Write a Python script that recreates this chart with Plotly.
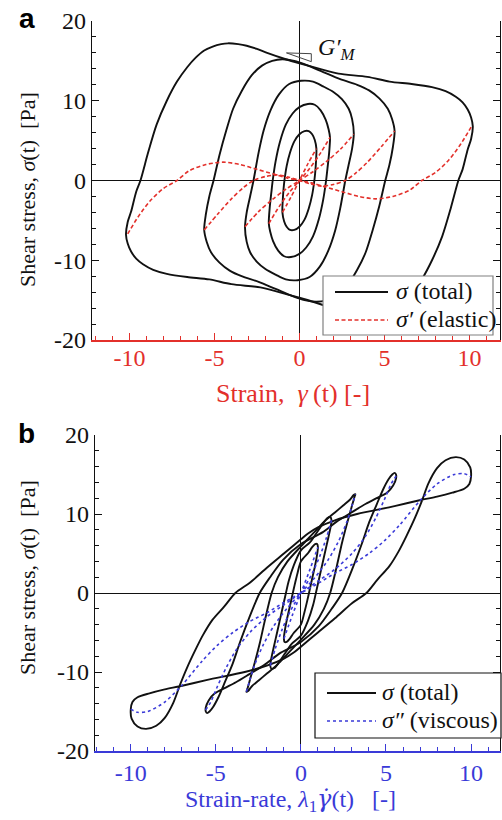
import plotly.graph_objects as go

# ---------------- Panel a : stress vs strain ----------------
# total stress loops (strain amplitude 1.0, 1.8, 3.2, 5.6, 10)
a_strain_1 = [-1.0, -0.98, -0.93, -0.88, -0.75, -0.55, -0.3, 0.0, 0.3, 0.55, 0.75, 0.9, 1.0,
              0.98, 0.93, 0.88, 0.75, 0.55, 0.3, 0.0, -0.3, -0.55, -0.75, -0.9, -1.0]
a_stress_1 = [-4.0, -2.5, -1.0, 0.0, 1.8, 3.5, 4.9, 5.8, 6.2, 6.2, 5.8, 5.1, 4.0,
              2.5, 1.0, 0.0, -1.8, -3.5, -4.9, -5.8, -6.2, -6.2, -5.8, -5.1, -4.0]

a_strain_2 = [-1.8, -1.75, -1.65, -1.57, -1.4, -1.15, -0.8, -0.4, 0.0, 0.5, 0.9, 1.25, 1.55, 1.72, 1.8,
              1.75, 1.65, 1.57, 1.4, 1.15, 0.8, 0.4, 0.0, -0.5, -0.9, -1.25, -1.55, -1.72, -1.8]
a_stress_2 = [-5.4, -3.5, -1.5, 0.0, 2.4, 4.8, 7.0, 8.4, 9.2, 9.6, 9.5, 8.8, 7.6, 6.4, 5.4,
              3.5, 1.5, 0.0, -2.4, -4.8, -7.0, -8.4, -9.2, -9.6, -9.5, -8.8, -7.6, -6.4, -5.4]

a_strain_3 = [-3.2, -3.1, -2.9, -2.7, -2.4, -2.1, -1.7, -1.2, -0.6, 0.1, 0.8, 1.4, 2.0, 2.5, 2.9, 3.1, 3.2,
              3.1, 2.9, 2.7, 2.4, 2.1, 1.7, 1.2, 0.6, -0.1, -0.8, -1.4, -2.0, -2.5, -2.9, -3.1, -3.2]
a_stress_3 = [-5.9, -4.0, -2.0, 0.0, 3.5, 6.3, 8.8, 10.8, 12.1, 12.5, 12.4, 11.8, 11.1, 10.2, 9.0, 7.7, 5.9,
              4.0, 2.0, 0.0, -3.5, -6.3, -8.8, -10.8, -12.1, -12.5, -12.4, -11.8, -11.1, -10.2, -9.0, -7.7, -5.9]

a_strain_4 = [-5.6, -5.5, -5.3, -5.05, -4.7, -4.3, -3.9, -3.4, -2.8, -2.2, -1.6, -1.0, -0.3, 0.4, 1.4, 2.4,
              3.4, 4.1, 4.7, 5.2, 5.45, 5.6,
              5.5, 5.3, 5.05, 4.7, 4.3, 3.9, 3.4, 2.8, 2.2, 1.6, 1.0, 0.3, -0.4, -1.4, -2.4,
              -3.4, -4.1, -4.7, -5.2, -5.45, -5.6]
a_stress_4 = [-6.2, -4.2, -2.0, 0.0, 3.2, 6.3, 9.0, 11.2, 13.2, 14.4, 15.0, 15.2, 15.0, 14.5, 13.6, 12.7,
              12.0, 11.3, 10.3, 9.0, 7.7, 6.2,
              4.2, 2.0, 0.0, -3.2, -6.3, -9.0, -11.2, -13.2, -14.4, -15.0, -15.2, -15.0, -14.5, -13.6, -12.7,
              -12.0, -11.3, -10.3, -9.0, -7.7, -6.2]

a_strain_5 = [-10.2, -10.1, -9.9, -9.6, -9.35, -8.9, -8.4, -7.8, -7.2, -6.6, -6.1, -5.6, -5.1, -4.6, -4.2,
              -3.6, -3.1, -2.5, -1.9, -0.8, 0.0, 1.2, 2.3, 4.0, 5.3, 6.6, 7.8, 8.6, 9.2, 9.6, 9.9, 10.1, 10.2,
              10.1, 9.9, 9.6, 9.35, 8.9, 8.4, 7.8, 7.2, 6.6, 6.1, 5.6, 5.1, 4.6, 4.2,
              3.6, 3.1, 2.5, 1.9, 0.8, 0.0, -1.2, -2.3, -4.0, -5.3, -6.6, -7.8, -8.6, -9.2, -9.6, -9.9, -10.1, -10.2]
a_stress_5 = [-6.8, -5.2, -3.9, -1.4, 0.0, 3.5, 7.0, 10.0, 12.4, 14.2, 15.4, 16.3, 16.8, 17.1, 17.2,
              17.1, 16.9, 16.5, 16.0, 15.2, 14.7, 14.0, 13.4, 13.0, 12.4, 12.1, 11.7, 11.2, 10.5, 9.8, 8.9, 7.9, 6.8,
              5.2, 3.9, 1.4, 0.0, -3.5, -7.0, -10.0, -12.4, -14.2, -15.4, -16.3, -16.8, -17.1, -17.2,
              -17.1, -16.9, -16.5, -16.0, -15.2, -14.7, -14.0, -13.4, -13.0, -12.4, -12.1, -11.7, -11.2, -10.5, -9.8, -8.9, -7.9, -6.8]

# elastic stress curves
e_strain_1 = [-1.0, -0.5, 0.0, 0.5, 1.0]
e_stress_1 = [-4.0, -2.1, 0.0, 2.1, 4.0]
e_strain_2 = [-1.8, -1.2, -0.6, 0.0, 0.6, 1.2, 1.8]
e_stress_2 = [-5.4, -3.3, -1.5, 0.0, 1.5, 3.3, 5.4]
e_strain_3 = [-3.2, -2.4, -1.6, -0.8, 0.0, 0.8, 1.6, 2.4, 3.2]
e_stress_3 = [-5.8, -3.9, -2.4, -1.1, 0.0, 1.1, 2.4, 3.9, 5.8]
e_strain_4 = [-5.6, -4.8, -4.0, -3.3, -2.7, -2.0, -1.3, -0.6, 0.0, 0.6, 1.3, 2.0, 2.7, 3.3, 4.0, 4.8, 5.6]
e_stress_4 = [-6.2, -4.2, -2.3, -0.9, 0.0, 0.5, 0.7, 0.4, 0.0, -0.4, -0.7, -0.5, 0.0, 0.9, 2.3, 4.2, 6.2]
e_strain_5 = [-10.1, -9.5, -8.8, -8.0, -7.2, -6.5, -5.5, -4.5, -3.5, -2.5, -1.5, -0.7, 0.0,
              0.7, 1.5, 2.5, 3.5, 4.5, 5.5, 6.5, 7.2, 8.0, 8.8, 9.5, 10.1]
e_stress_5 = [-6.7, -4.6, -2.6, -1.0, 0.0, 1.2, 2.0, 2.3, 2.0, 1.4, 0.8, 0.3, 0.0,
              -0.3, -0.8, -1.4, -2.0, -2.3, -2.0, -1.2, 0.0, 1.0, 2.6, 4.6, 6.7]

# G'_M slope triangle
gm_tri_x = [-0.76, 0.7, 0.7, -0.76]
gm_tri_y = [16.0, 15.9, 14.9, 16.0]

# ---------------- Panel b : stress vs strain-rate ----------------
b_rate_1 = [0.0, 0.2, 0.37, 0.475, 0.66, 0.835, 0.954, 1.0, 0.954, 0.835, 0.66, 0.436, 0.0,
            -0.2, -0.37, -0.475, -0.66, -0.835, -0.954, -1.0, -0.954, -0.835, -0.66, -0.436, 0.0]
b_stress_1 = [-4.0, -2.5, -1.0, 0.0, 1.8, 3.5, 4.9, 5.8, 6.2, 6.2, 5.8, 5.1, 4.0,
              2.5, 1.0, 0.0, -1.8, -3.5, -4.9, -5.8, -6.2, -6.2, -5.8, -5.1, -4.0]

b_rate_2 = [0.0, 0.42, 0.72, 0.88, 1.13, 1.38, 1.61, 1.75, 1.8, 1.73, 1.56, 1.30, 0.92, 0.53, 0.0,
            -0.42, -0.72, -0.88, -1.13, -1.38, -1.61, -1.75, -1.8, -1.73, -1.56, -1.30, -0.92, -0.53, 0.0]
b_stress_2 = [-5.4, -3.5, -1.5, 0.0, 2.4, 4.8, 7.0, 8.4, 9.2, 9.6, 9.5, 8.8, 7.6, 6.4, 5.4,
              3.5, 1.5, 0.0, -2.4, -4.8, -7.0, -8.4, -9.2, -9.6, -9.5, -8.8, -7.6, -6.4, -5.4]

b_rate_3 = [0.0, 0.79, 1.35, 1.72, 2.12, 2.41, 2.71, 2.97, 3.14, 3.2, 3.10, 2.88, 2.50, 2.0, 1.35, 0.79, 0.0,
            -0.79, -1.35, -1.72, -2.12, -2.41, -2.71, -2.97, -3.14, -3.2, -3.10, -2.88, -2.50, -2.0, -1.35, -0.79, 0.0]
b_stress_3 = [-5.9, -4.0, -2.0, 0.0, 3.5, 6.3, 8.8, 10.8, 12.1, 12.5, 12.4, 11.8, 11.1, 10.2, 9.0, 7.7, 5.9,
              4.0, 2.0, 0.0, -3.5, -6.3, -8.8, -10.8, -12.1, -12.5, -12.4, -11.8, -11.1, -10.2, -9.0, -7.7, -5.9]

b_rate_4 = [0.0, 1.05, 1.81, 2.42, 3.05, 3.59, 4.02, 4.45, 4.85, 5.15, 5.37, 5.51, 5.59, 5.59, 5.42, 5.06,
            4.45, 3.82, 3.05, 2.08, 1.29, 0.0,
            -1.05, -1.81, -2.42, -3.05, -3.59, -4.02, -4.45, -4.85, -5.15, -5.37, -5.51, -5.59, -5.59, -5.42, -5.06,
            -4.45, -3.82, -3.05, -2.08, -1.29, 0.0]
b_stress_4 = [-6.2, -4.2, -2.0, 0.0, 3.2, 6.3, 9.0, 11.2, 13.2, 14.4, 15.0, 15.2, 15.0, 14.5, 13.6, 12.7,
              12.0, 11.3, 10.3, 9.0, 7.7, 6.2,
              4.2, 2.0, 0.0, -3.2, -6.3, -9.0, -11.2, -13.2, -14.4, -15.0, -15.2, -15.0, -14.5, -13.6, -12.7,
              -12.0, -11.3, -10.3, -9.0, -7.7, -6.2]

b_rate_5 = [0.0, 1.0, 2.0, 3.0, 3.85, 4.5, 5.2, 5.75, 6.2, 6.7, 7.1, 7.5, 8.0, 8.5, 9.1, 9.6, 9.95, 10.0,
            9.9, 9.6, 8.9, 8.0, 7.1, 5.5, 3.3, 2.0, 1.0, 0.4, 0.0,
            -1.0, -2.0, -3.0, -3.85, -4.5, -5.2, -5.75, -6.2, -6.7, -7.1, -7.5, -8.0, -8.5, -9.1, -9.6, -9.95, -10.0,
            -9.9, -9.6, -8.9, -8.0, -7.1, -5.5, -3.3, -2.0, -1.0, -0.4, 0.0]
b_stress_5 = [-6.8, -5.0, -3.2, -1.3, 0.0, 1.7, 3.4, 5.3, 7.2, 9.5, 11.6, 13.9, 15.8, 16.8, 17.2, 16.9, 15.9, 14.8,
              13.8, 13.2, 12.7, 12.2, 11.8, 11.0, 10.0, 9.2, 8.3, 7.5, 6.8,
              5.0, 3.2, 1.3, 0.0, -1.7, -3.4, -5.3, -7.2, -9.5, -11.6, -13.9, -15.8, -16.8, -17.2, -16.9, -15.9, -14.8,
              -13.8, -13.2, -12.7, -12.2, -11.8, -11.0, -10.0, -9.2, -8.3, -7.5, -6.8]

# viscous stress curves
v_rate_1 = [-1.0, -0.5, 0.0, 0.5, 1.0]
v_stress_1 = [-5.8, -2.8, 0.0, 2.8, 5.8]
v_rate_2 = [-1.8, -1.5, -1.1, -0.6, 0.0, 0.6, 1.1, 1.5, 1.8]
v_stress_2 = [-9.2, -7.0, -4.6, -2.2, 0.0, 2.2, 4.6, 7.0, 9.2]
v_rate_3 = [-3.2, -3.0, -2.7, -2.2, -1.6, -0.8, 0.0, 0.8, 1.6, 2.2, 2.7, 3.0, 3.2]
v_stress_3 = [-12.5, -11.0, -9.0, -6.5, -4.2, -1.9, 0.0, 1.9, 4.2, 6.5, 9.0, 11.0, 12.5]
v_rate_4 = [-5.6, -5.3, -4.9, -4.4, -3.8, -3.0, -2.0, -1.0, 0.0, 1.0, 2.0, 3.0, 3.8, 4.4, 4.9, 5.3, 5.6]
v_stress_4 = [-14.8, -13.8, -11.8, -9.5, -7.2, -5.0, -3.0, -1.5, 0.0, 1.5, 3.0, 5.0, 7.2, 9.5, 11.8, 13.8, 14.8]
v_rate_5 = [-10.0, -9.6, -9.0, -8.0, -7.0, -5.8, -4.9, -4.0, -3.0, -2.0, -1.0, 0.0,
            1.0, 2.0, 3.0, 4.0, 4.9, 5.8, 7.0, 8.0, 9.0, 9.6, 10.0]
v_stress_5 = [-14.7, -15.1, -15.0, -13.8, -11.7, -8.6, -6.6, -5.0, -3.6, -2.5, -1.2, 0.0,
              1.2, 2.5, 3.6, 5.0, 6.6, 8.6, 11.7, 13.8, 15.0, 15.1, 14.7]

x_tickvals = [-10, -5, 0, 5, 10]
x_ticktext = ["-10", "-5", "0", "5", "10"]
y_tickvals = [-20, -10, 0, 10, 20]
y_ticktext = ["-20", "-10", "0", "10", "20"]

legend_a_labels = ["<i>σ</i> (total)", "<i>σ′</i> (elastic)"]
legend_b_labels = ["<i>σ</i> (total)", "<i>σ″</i> (viscous)"]

# ---------------- styling ----------------
FONT = "Liberation Serif"
RED = "#e3302b"
BLUE = "#3a3ad8"
BLACK = "#111111"
NB = "\u00a0"
W, H = 502, 820
ML, MR, MT, MB = 92, 2, 21, 69
PW, PH = W - ML - MR, H - MT - MB


def px(x):
    return (x - ML) / PW


def py(y):
    return (H - MB - y) / PH


fig = go.Figure()

line_black = dict(color=BLACK, width=1.9, shape="spline", smoothing=0.8)
for xs, ys in [(a_strain_1, a_stress_1), (a_strain_2, a_stress_2), (a_strain_3, a_stress_3),
               (a_strain_4, a_stress_4), (a_strain_5, a_stress_5)]:
    fig.add_trace(go.Scatter(x=xs, y=ys, mode="lines", xaxis="x", yaxis="y", line=line_black,
                             name="σ (total)", showlegend=False))
for xs, ys in [(e_strain_1, e_stress_1), (e_strain_2, e_stress_2), (e_strain_3, e_stress_3),
               (e_strain_4, e_stress_4), (e_strain_5, e_stress_5)]:
    fig.add_trace(go.Scatter(x=xs, y=ys, mode="lines", xaxis="x", yaxis="y",
                             line=dict(color=RED, width=1.6, dash="4px,2.5px", shape="spline", smoothing=0.8),
                             name="σ′ (elastic)", showlegend=False))
fig.add_trace(go.Scatter(x=gm_tri_x, y=gm_tri_y, mode="lines", xaxis="x", yaxis="y",
                         line=dict(color="#444444", width=1), showlegend=False))

for xs, ys in [(b_rate_1, b_stress_1), (b_rate_2, b_stress_2), (b_rate_3, b_stress_3),
               (b_rate_4, b_stress_4), (b_rate_5, b_stress_5)]:
    fig.add_trace(go.Scatter(x=xs, y=ys, mode="lines", xaxis="x2", yaxis="y2", line=line_black,
                             name="σ (total)", showlegend=False))
for xs, ys in [(v_rate_1, v_stress_1), (v_rate_2, v_stress_2), (v_rate_3, v_stress_3),
               (v_rate_4, v_stress_4), (v_rate_5, v_stress_5)]:
    fig.add_trace(go.Scatter(x=xs, y=ys, mode="lines", xaxis="x2", yaxis="y2",
                             line=dict(color=BLUE, width=1.6, dash="dot", shape="spline", smoothing=0.8),
                             name="σ″ (viscous)", showlegend=False))


def xbottom(color, rng, dom, anchor, standoff):
    return dict(domain=dom, anchor=anchor, range=rng, tickmode="array", tickvals=x_tickvals,
                ticktext=x_ticktext, ticks="inside", ticklen=7, tickwidth=1.2, tickcolor=color,
                minor=dict(tickmode="linear", tick0=0, dtick=1, ticks="inside", ticklen=4,
                           tickwidth=1, tickcolor=color),
                showline=True, linecolor=color, linewidth=1.6, mirror=False,
                zeroline=True, zerolinecolor=BLACK, zerolinewidth=1.3, showgrid=False,
                ticklabelstandoff=standoff,
                tickfont=dict(family=FONT, size=24, color=color), automargin=False)


def xtop(rng, dom, anchor, over):
    return dict(domain=dom, anchor=anchor, overlaying=over, side="top", range=rng,
                tickmode="linear", tick0=0, dtick=5, ticks="inside", ticklen=7, tickwidth=1.2,
                tickcolor=BLACK, minor=dict(tickmode="linear", tick0=0, dtick=1, ticks="inside",
                                            ticklen=4, tickwidth=1, tickcolor=BLACK),
                showticklabels=False, showline=True, linecolor=BLACK, linewidth=1.3,
                zeroline=False, showgrid=False, automargin=False)


def yleft(dom, anchor):
    return dict(domain=dom, anchor=anchor, range=[-20, 20], tickmode="array", tickvals=y_tickvals,
                ticktext=y_ticktext, ticks="inside", ticklen=7, tickwidth=1.2, tickcolor=BLACK,
                minor=dict(tickmode="linear", tick0=0, dtick=2, ticks="inside", ticklen=4,
                           tickwidth=1, tickcolor=BLACK),
                showline=True, linecolor=BLACK, linewidth=1.3, mirror="allticks",
                zeroline=True, zerolinecolor=BLACK, zerolinewidth=1.3, showgrid=False,
                tickfont=dict(family=FONT, size=24, color=BLACK), automargin=False)


rng_a = [-12.2, 11.8]
rng_b = [-12.1, 11.7]

fig.update_layout(
    width=W, height=H, margin=dict(l=ML, r=MR, t=MT, b=MB, autoexpand=False),
    paper_bgcolor="white", plot_bgcolor="white",
    font=dict(family=FONT, size=20, color=BLACK),
    xaxis=xbottom(RED, rng_a, [0, 1], "y", -5),
    xaxis3=xtop(rng_a, [0, 1], "y", "x"),
    yaxis=yleft([py(340), 1.0], "x"),
    xaxis2=xbottom(BLUE, rng_b, [px(95), 1], "y2", -1),
    xaxis4=xtop(rng_b, [px(95), 1], "y2", "x2"),
    yaxis2=yleft([0.0, py(435)], "x2"),
    showlegend=False,
)

# legend boxes (drawn as shapes + text)
shapes = [
    dict(type="rect", xref="paper", yref="paper", x0=px(323), x1=px(493), y0=py(335), y1=py(276),
         line=dict(color="#808080", width=1.2), fillcolor="white", layer="above"),
    dict(type="line", xref="paper", yref="paper", x0=px(335), x1=px(388), y0=py(292), y1=py(292),
         line=dict(color=BLACK, width=1.9), layer="above"),
    dict(type="line", xref="paper", yref="paper", x0=px(335), x1=px(388), y0=py(320), y1=py(320),
         line=dict(color=RED, width=1.6, dash="4px,2.5px"), layer="above"),
    dict(type="rect", xref="paper", yref="paper", x0=px(315), x1=px(501), y0=py(738), y1=py(673),
         line=dict(color=BLACK, width=1.2), fillcolor="white", layer="above"),
    dict(type="line", xref="paper", yref="paper", x0=px(327), x1=px(376), y0=py(693), y1=py(693),
         line=dict(color=BLACK, width=1.9), layer="above"),
    dict(type="line", xref="paper", yref="paper", x0=px(327), x1=px(376), y0=py(721), y1=py(721),
         line=dict(color=BLUE, width=1.6, dash="dot"), layer="above"),
]

ann = []


def text(t, x, y, size, color=BLACK, family=FONT, xanchor="center", angle=0):
    ann.append(dict(text=t, x=px(x), y=py(y), xref="paper", yref="paper", showarrow=False,
                    xanchor=xanchor, yanchor="middle", textangle=angle,
                    font=dict(family=family, size=size, color=color)))


text(legend_a_labels[0], 394, 291, 24, xanchor="left")
text(legend_a_labels[1], 394, 319, 24, xanchor="left")
text(legend_b_labels[0], 380, 692, 24, xanchor="left")
text(legend_b_labels[1], 380, 720, 24, xanchor="left")
text("Strain," + NB + NB + "<i>γ</i>" + "\u2009(t) [-]", 293, 393, 26, color=RED)
text("Strain-rate, <i>λ</i><sub>1</sub><span style=\"font-family:'DejaVu Serif'\"><i>γ̇</i></span>(t)"
     + NB + NB + NB + "[-]", 290, 800, 24, color=BLUE)
text("Shear stress, <i>σ</i>(t)" + NB + NB + "[Pa]", 27, 190, 22, angle=-90)
text("Shear stress, <i>σ</i>(t)" + NB + NB + "[Pa]", 27, 578, 22, angle=-90)
text("<b>a</b>", 27, 18, 28, color="black", family="Liberation Sans")
text("<b>b</b>", 26, 434, 28, color="black", family="Liberation Sans")
text("<i>G′<sub>M</sub></i>", 316, 49, 24, xanchor="left")

fig.update_layout(annotations=ann, shapes=shapes)

fig.write_html("out.html", config={"displayModeBar": False},
               post_script="document.body.style.margin='0px';")
